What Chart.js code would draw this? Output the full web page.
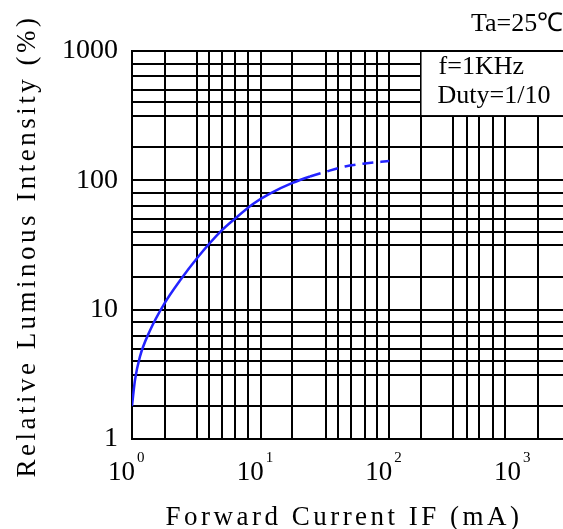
<!DOCTYPE html>
<html>
<head>
<meta charset="utf-8">
<script src="https://cdn.jsdelivr.net/npm/chart.js@4.4.1/dist/chart.umd.min.js"></script>
<style>
  html, body { margin: 0; padding: 0; background: #fff; }
  #wrap { width: 563px; height: 529px; position: relative; }
</style>
</head>
<body>
<div id="wrap"><canvas id="chart"></canvas></div>
<script>
// curve: forward current (mA) vs relative intensity (%)
const currentMA = [1, 1.055, 1.15, 1.38, 1.78, 2.36, 3.2, 4.98, 6.32, 8.77, 11.8, 17.5, 24.2, 31.6, 45.3, 64.7, 100];
const intensityPct = [1.8, 2.86, 4.3, 6.9, 11.1, 16.8, 25, 41, 50.6, 66, 79, 95, 107, 116, 128, 135, 141];
const dashedFrom = 24.2; // curve turns dashed past this current

// the hand drawn grid lines of the datasheet (not a regular log grid)
const xGridLines = [1, 1.8, 3.2, 4, 5, 6.3, 8, 10, 17.5, 32, 40, 50, 65, 80, 100, 175, 315, 400, 500, 640, 800, 1425];
const yGridLines = [1, 1.8, 3.15, 4, 5, 6.3, 8, 10, 18, 31.5, 40, 50, 63, 80, 100, 180, 315, 400, 500, 640, 800, 1000];
const xMin = 1, xMax = 2240;
const yMin = 1, yMax = 1000;

// tick labels
const xDecades = [1, 10, 100, 1000];
const xExponents = ['0', '1', '2', '3'];
const yLabels = [1, 10, 100, 1000];

// notes box (grid cleared under it)
const boxFromX = 175, boxToY = 314;
const noteLines = ['f=1KHz', 'Duty=1/10'];
const tempNote = 'Ta=25\u2103';
const xTitle = 'Forward Current IF (mA)';
const yTitle = 'Relative Luminous Intensity (%)';

const serif = '"Liberation Serif", "Times New Roman", serif';

const textPlugin = {
  id: 'sheetText',
  beforeDatasetsDraw(chart) {
    const { ctx, scales: { x, y }, chartArea } = chart;
    // white notes box in the top right corner
    ctx.save();
    ctx.fillStyle = '#fff';
    const left = x.getPixelForValue(boxFromX) + 1;
    const top = y.getPixelForValue(yMax) + 1;
    const bottom = y.getPixelForValue(boxToY) - 1;
    ctx.fillRect(left, top, chartArea.right - left + 2, bottom - top);
    ctx.fillStyle = '#000';
    ctx.font = '26px ' + serif;
    ctx.textAlign = 'left';
    ctx.textBaseline = 'alphabetic';
    ctx.fillText(noteLines[0], left + 17, 74);
    ctx.fillText(noteLines[1], left + 16, 103);
    ctx.restore();
  },
  afterDraw(chart) {
    const { ctx, scales: { x } } = chart;
    ctx.save();
    ctx.fillStyle = '#000';
    ctx.textBaseline = 'alphabetic';

    // x decade labels 10^n
    xDecades.forEach((v, i) => {
      const px = x.getPixelForValue(v);
      ctx.font = '27px ' + serif;
      ctx.textAlign = 'right';
      ctx.fillText('10', px + 3, 480);
      ctx.font = '15px ' + serif;
      ctx.textAlign = 'left';
      ctx.fillText(xExponents[i], px + 5, 462);
    });

    ctx.font = '26px ' + serif;
    ctx.textAlign = 'left';
    ctx.fillText(tempNote, 471, 31);

    // axis titles, widely spaced like the original
    ctx.font = '27px ' + serif;
    ctx.letterSpacing = '3.5px';
    ctx.textAlign = 'center';
    ctx.fillText(xTitle, 344, 525);

    ctx.translate(35, 246);
    ctx.rotate(-Math.PI / 2);
    ctx.fillText(yTitle, 0, 0);
    ctx.restore();
  }
};

const points = currentMA.map((c, i) => ({ x: c, y: intensityPct[i] }));

new Chart(document.getElementById('chart'), {
  type: 'line',
  data: {
    datasets: [{
      data: points,
      borderColor: 'rgb(35, 35, 255)',
      borderWidth: 2.5,
      pointRadius: 0,
      cubicInterpolationMode: 'monotone',
      fill: false,
      segment: {
        borderDash: ctx => ctx.p0.parsed.x >= dashedFrom ? [11, 7] : undefined
      }
    }]
  },
  options: {
    responsive: true,
    maintainAspectRatio: false,
    animation: false,
    layout: { padding: { top: 51, right: 0, bottom: 0, left: 0 } },
    plugins: {
      legend: { display: false },
      tooltip: { enabled: false }
    },
    scales: {
      x: {
        type: 'logarithmic',
        min: xMin,
        max: xMax,
        afterBuildTicks: scale => { scale.ticks = xGridLines.map(v => ({ value: v })); },
        afterFit: scale => { scale.height = 90; },
        ticks: { display: false },
        grid: { color: '#000', lineWidth: 2, drawTicks: false },
        border: { color: '#000', width: 2 }
      },
      y: {
        type: 'logarithmic',
        min: yMin,
        max: yMax,
        afterBuildTicks: scale => { scale.ticks = yGridLines.map(v => ({ value: v })); },
        afterFit: scale => { scale.width = 132; },
        ticks: {
          color: '#000',
          padding: 14,
          autoSkip: false,
          font: { family: serif, size: 28 },
          callback: v => yLabels.includes(v) ? String(v) : ''
        },
        grid: { color: '#000', lineWidth: 2, drawTicks: false },
        border: { color: '#000', width: 2 }
      }
    }
  },
  plugins: [textPlugin]
});
</script>
</body>
</html>
